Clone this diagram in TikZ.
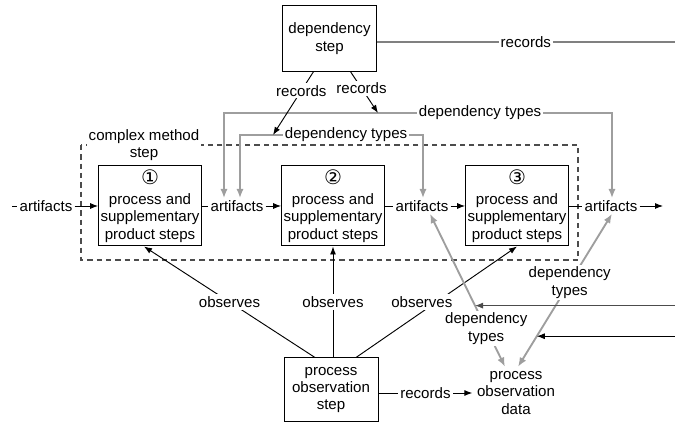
\documentclass[tikz,border=0pt]{standalone}
\usepackage{fontspec}
\setmainfont{Liberation Sans}
\newfontfamily\circfont{DejaVu Sans}
\usetikzlibrary{arrows.meta,calc}

\begin{document}
\begin{tikzpicture}[x = 0.75pt, y = -0.75pt,
        every node/.append style = {font = \fontsize{11.3}{13}\selectfont, align = center},
        stepbox/.style = {draw, line width = 0.75pt, minimum width = 77pt, minimum height = 60pt, inner sep = 1pt},
        lbl/.style = {fill = white, text = black, inner sep = 1.5pt},
        plain/.style = {line width = 0.7pt},
        flow/.style = {line width = 0.7pt, -{Latex[length = 6pt, width = 4.5pt]}},
        deptype/.style = {line width = 1.4pt, black!38, {Latex[length = 7pt, width = 5.5pt]}-{Latex[length = 7pt, width = 5.5pt]}}]
    \useasboundingbox (0,0) rectangle (675,423);

    \coordinate (in) at (12,206);
    \coordinate (out) at (663,206);
    \coordinate (edge) at (675,0);
    \coordinate (rr) at (675,42);
    \coordinate (u1) at (224,113);
    \coordinate (u2) at (612,113);
    \coordinate (l1) at (240,135);
    \coordinate (l2) at (423,135);
    \coordinate (r1) at (273,135);
    \coordinate (r2) at (378,113);

    \draw[dash pattern = on 4pt off 3pt, line width = 0.8pt, black!70] (81,145) rectangle (578,260);
    \node[lbl] (cm) at (144,145) {complex method\\step};

    \node[stepbox, minimum width = 70pt, minimum height = 49pt] (dep) at (329.5,38.5) {dependency\\step};
    \node[stepbox] (b1) at (150,206) {{\circfont\fontsize{15}{15}\selectfont ①}\\[2pt]process and\\supplementary\\product steps};
    \node[stepbox] (b2) at (333,206) {{\circfont\fontsize{15}{15}\selectfont ②}\\[2pt]process and\\supplementary\\product steps};
    \node[stepbox] (b3) at (517,206) {{\circfont\fontsize{15}{15}\selectfont ③}\\[2pt]process and\\supplementary\\product steps};
    \node[stepbox, minimum width = 70.5pt, minimum height = 48pt] (obs) at (331,390) {process\\observation\\step};
    \node (data) at (516,393) {process\\observation\\data};

    \node[lbl] (a0) at (46,206) {artifacts};
    \node[lbl] (a1) at (237,206) {artifacts};
    \node[lbl] (a2) at (422,206) {artifacts};
    \node[lbl] (a3) at (611,206) {artifacts};
    \foreach \a/\b in {in/a0, b1/a1, b2/a2, b3/a3}
        \draw[plain] (\a) -- (\b);
    \foreach \a/\b in {a0/b1, a1/b2, a2/b3, a3/out}
        \draw[flow] (\a) -- (\b);

    \draw[deptype] (a1.north -| u1) |- node[lbl, pos = 0.83] {dependency types} (u2) -- (a3.north -| u2);
    \draw[deptype] (a1.north -| l1) |- node[lbl, pos = 0.79] {dependency types} (l2) -- (a2.north -| l2);

    \draw[line width = 1.2pt, black!50] (dep.east |- rr) -- node[lbl] {records} (rr);
    \draw[flow] ($(dep.south)+(-16,0)$) -- node[lbl, pos = 0.3] {records} (r1);
    \draw[flow] ($(dep.south)+(21,0)$) -- node[lbl, pos = 0.4] {records} (r2);

    \draw[flow] ($(obs.north)+(-16,0)$) -- node[lbl] {observes} ($(b1.south)+(-6,0)$);
    \draw[flow] (obs.north -| b2.south) -- node[lbl] {observes} (b2.south);
    \draw[flow] ($(obs.north)+(25,0)$) -- node[lbl, xshift = -11pt] {observes} (b3.south);
    \draw[flow] (obs.east |- data) -- node[lbl] {records} (data);

    \draw[deptype] ($(a2.south)+(8,0)$) -- coordinate[pos = 0.6] (h1) node[lbl, pos = 0.75] {dependency\\types} ($(data.north)+(-11,0)$);
    \draw[deptype] ($(a3.south)+(1,0)$) -- coordinate[pos = 0.8] (h2) node[lbl, pos = 0.45] {dependency\\types} ($(data.north)+(2,0)$);
    \draw[flow, black!70] (h1 -| edge) -- (h1);
    \draw[flow] (h2 -| edge) -- (h2);
\end{tikzpicture}
\end{document}
